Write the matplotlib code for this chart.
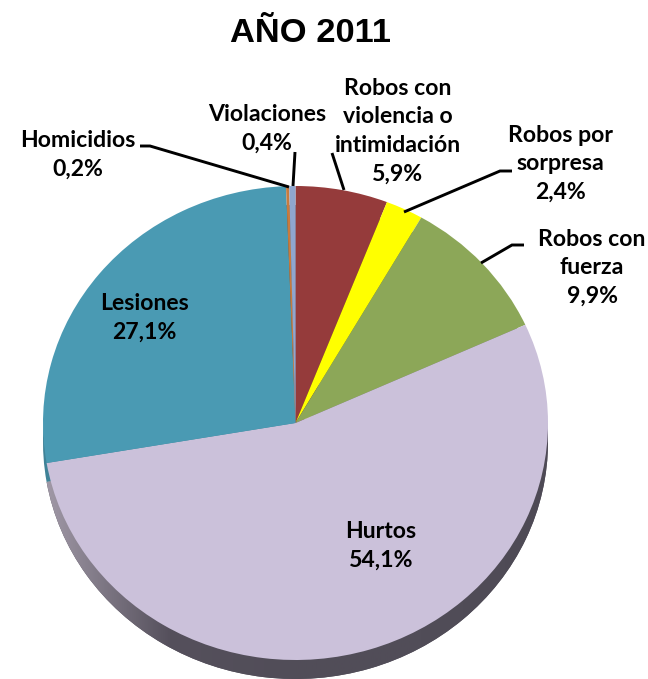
import numpy as np
import matplotlib
matplotlib.use("Agg")
import matplotlib.pyplot as plt
from matplotlib.colors import LinearSegmentedColormap

W, H = 648, 679
title = "AÑO 2011"
categories = ["Robos con\nviolencia o\nintimidación", "Robos por\nsorpresa", "Robos con\nfuerza",
              "Hurtos", "Lesiones", "Homicidios", "Violaciones"]
values = [5.9, 2.4, 9.9, 54.1, 27.1, 0.2, 0.4]
pct_labels = ["5,9%", "2,4%", "9,9%", "54,1%", "27,1%", "0,2%", "0,4%"]
colors = ["#953B3B", "#FFFF00", "#8CA758", "#CBC1DA", "#4A9AB3", "#C87B3E", "#8FA6CF"]
side_colors = ["#5E2A2A", "#9A9A00", "#5B6C38", "#55505C", "#3F8297", "#7C4C26", "#5A6882"]

cx, cy, rx, ry, depth = 295.5, 423, 252.5, 237, 19
label_xy = [(398, 131), (560, 164), (592, 268), (381, 546), (144, 318), (78, 155), (267, 129)]
leaders = [[(332, 153), (344, 190)],
           [(512, 171), (500, 171), (404, 212)],
           [(524, 245), (512, 245), (481, 263)],
           [(140, 146), (150, 146), (289, 187)],
           [(295, 152), (293, 186)]]

fig = plt.figure(figsize=(W / 100, H / 100), dpi=100)
bg = fig.add_axes([0, 0, 1, 1], zorder=3)
bg.set_xlim(0, W); bg.set_ylim(H, 0); bg.axis("off"); bg.patch.set_alpha(0)

def pie_ax(yc, z):
    ax = fig.add_axes([(cx - rx) / W, 1 - (yc + ry) / H, 2 * rx / W, 2 * ry / H], zorder=z)
    ax.patch.set_alpha(0)
    return ax

# extruded side of the pie
side = pie_ax(cy + depth, 1)
w_side, _ = side.pie(values, colors=side_colors, startangle=90, counterclock=False, radius=1)
side.set_aspect("auto"); side.set_xlim(-1, 1); side.set_ylim(-1, 1)
grad = LinearSegmentedColormap.from_list("g", ["#A29AA8", "#55505C", "#514D58", "#514D58", "#4E4A55"])
im = side.imshow(np.linspace(0, 1, 256).reshape(1, -1), extent=(-1, 1, -1, 1), cmap=grad, aspect="auto", zorder=5)
im.set_clip_path(w_side[3])
side.set_xlim(-1, 1); side.set_ylim(-1, 1)

# top face
top = pie_ax(cy, 2)
top.pie(values, colors=colors, startangle=90, counterclock=False, radius=1)
top.set_aspect("auto"); top.set_xlim(-1, 1); top.set_ylim(-1, 1)

for pts in leaders:
    xs, ys = zip(*pts)
    bg.plot(xs, ys, color="black", lw=2.1, solid_capstyle="butt", solid_joinstyle="miter")

for cat, pct, (x, y) in zip(categories, pct_labels, label_xy):
    bg.text(x, y, f"{cat}\n{pct}", ha="center", va="center", family="Lato", weight="bold",
            fontsize=16.6, linespacing=1.45, color="black")

bg.text(310, 34, title, ha="center", va="center", family="Liberation Sans", weight="bold",
        fontsize=24.8, color="black")

fig.savefig("out.png", dpi=100)
